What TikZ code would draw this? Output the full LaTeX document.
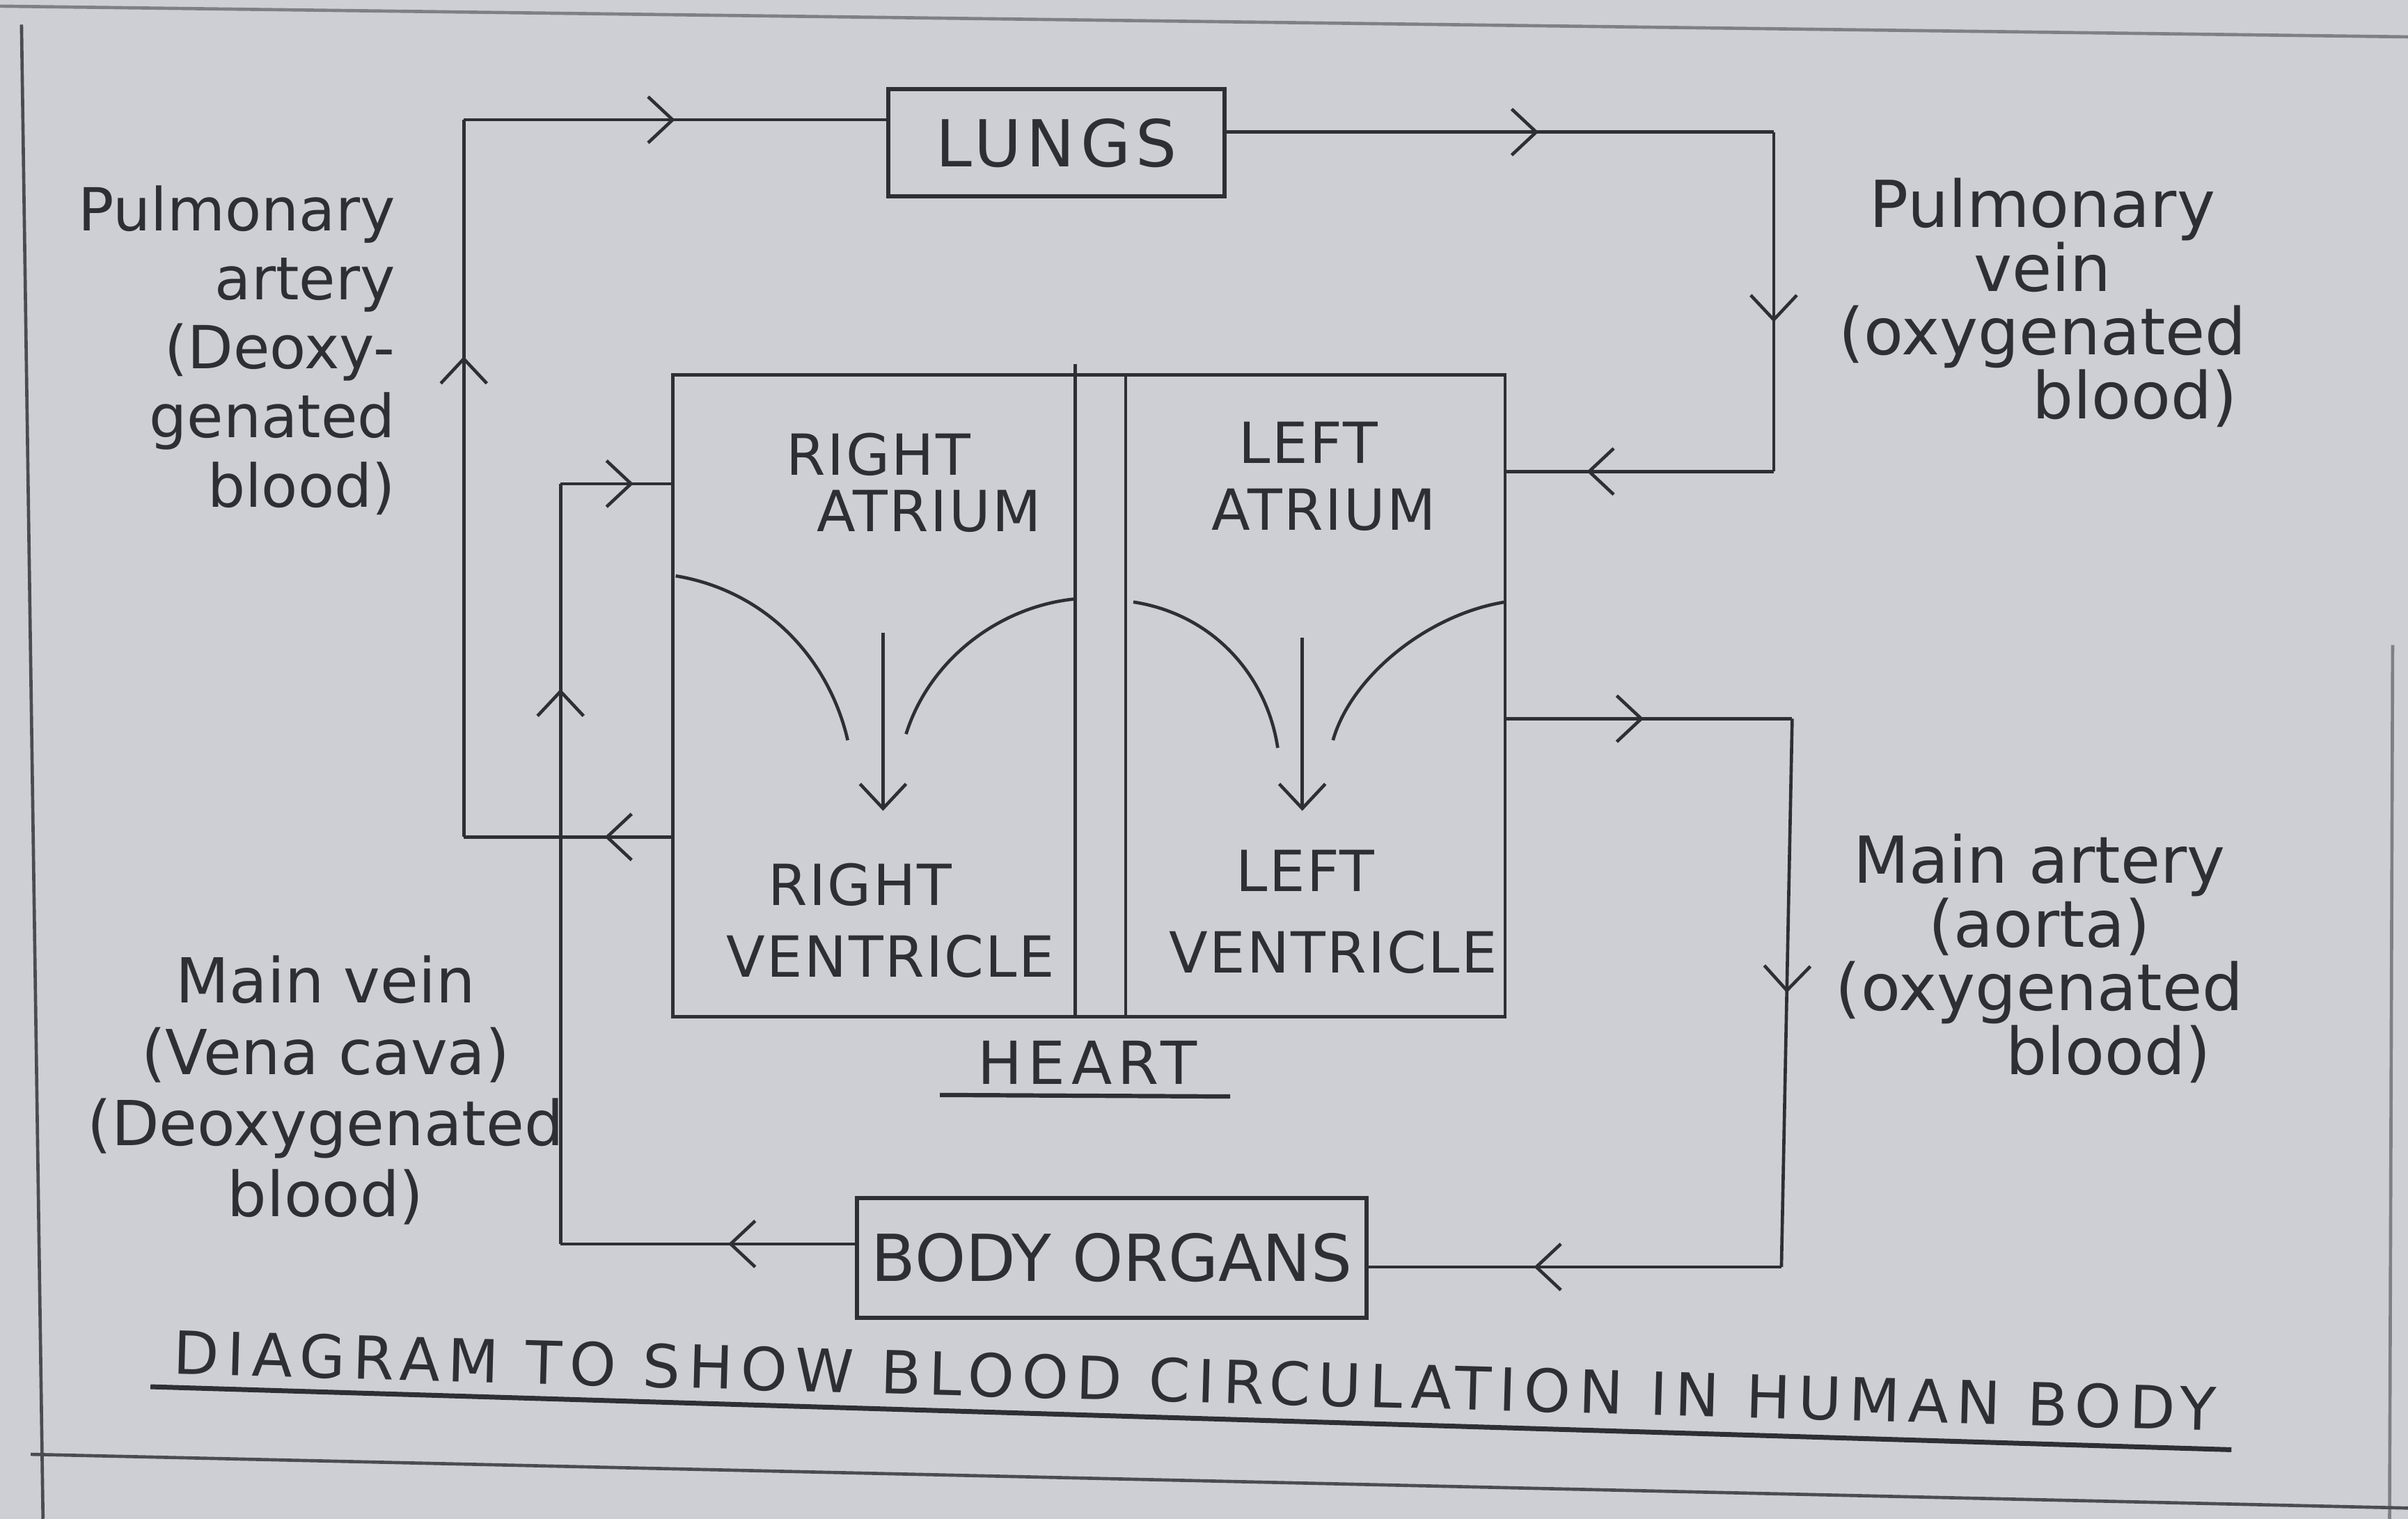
\documentclass[tikz,border=0pt]{standalone}
\usepackage{fontspec}
\setmainfont{DejaVu Sans}
\usetikzlibrary{arrows.meta, positioning, decorations.markings, calc}
\definecolor{paper}{HTML}{CDCFD4}
\definecolor{ink}{HTML}{2E2F34}
\definecolor{pencil}{HTML}{4A4C52}
\tikzset{
  organ/.style={rectangle, draw=ink, line width=0.8pt, align=center, text=ink,
    font=\fontsize{12}{14}\selectfont, inner sep=2pt},
  chamber/.style={font=\fontsize{10.5}{12}\selectfont\addfontfeature{LetterSpace=3}, inner sep=0pt, text=ink},
  note/.style={font=\fontsize{11}{12.8}\selectfont, text=ink, inner sep=0pt},
  notewide/.style={font=\fontsize{12}{11.8}\selectfont, text=ink, inner sep=0pt},
  heading/.style={font=\fontsize{11}{13}\selectfont\addfontfeature{LetterSpace=10}, inner sep=0pt, text=ink},
  vessel/.style={draw=ink, line width=0.6pt},
  flow/.style={postaction={decorate}, decoration={markings,
    mark=at position #1 with {\arrow{Straight Barb[length=1.6mm, width=3mm]}}}},
  flow/.default=0.5,
  flowtip/.style={-{Straight Barb[length=1.6mm, width=3mm]}},
  pageline/.style={draw=pencil, line width=0.6pt},
}

\begin{document}
\begin{tikzpicture}[x=0.1mm, y=-0.1mm]
\fill[paper] (0,0) rectangle (1568,989);
\useasboundingbox (0,0) rectangle (1568,989);

% ruled page
\draw[pageline, draw opacity=0.6] (0,4) -- (1568,24);
\draw[pageline] (14,16) -- (28,989);
\draw[pageline] (20,947) -- (1568,982);
\draw[pageline, draw opacity=0.6] (1558,420) -- (1556,989);

% organs
\node[organ, font=\fontsize{12}{14}\selectfont\addfontfeature{LetterSpace=8}, minimum width=21.9mm, minimum height=7mm] (lungs) at (688,93) {LUNGS};
\node[organ, minimum width=33.2mm, minimum height=7.8mm] (body) at (724,819) {BODY ORGANS};
\node[organ, line width=0.6pt, minimum width=54.2mm, minimum height=41.8mm] (heart) at (709,453) {};

% septum
\draw[vessel] (700,237) -- (700,662);
\draw[vessel] (733,244) -- (733,662);

% valves
\draw[vessel] (440,375) .. controls (500,385) and (540,430) .. (552,482);
\draw[vessel] (590,478) .. controls (605,430) and (650,395) .. (700,390);
\draw[vessel] (738,392) .. controls (790,400) and (825,440) .. (832,487);
\draw[vessel] (868,482) .. controls (880,440) and (930,400) .. (980,392);
\draw[vessel, flowtip] (575,412) -- (575,528);
\draw[vessel, flowtip] (848,415) -- (848,528);

% chambers
\node[chamber] (ra1) at (572,296) {RIGHT};
\node[chamber] (ra2) at (605,333) {ATRIUM};
\node[chamber] (la1) at (852,288) {LEFT};
\node[chamber] (la2) at (862,332) {ATRIUM};
\node[chamber] (rv1) at (560,576) {RIGHT};
\node[chamber] (rv2) at (580,623) {VENTRICLE};
\node[chamber] (lv1) at (850,567) {LEFT};
\node[chamber] (lv2) at (868,620) {VENTRICLE};

\node[heading] (hearttext) at (708,692) {HEART};
\draw[vessel, line width=0.8pt] (612,713) -- (801,714);

% pulmonary artery
\coordinate (pa1) at (302,545);
\coordinate (pa2) at (302,78);
\draw[vessel, flow=0.32] (heart.west |- pa1) -- (pa1);
\draw[vessel, flow=0.67] (pa1) -- (pa2);
\draw[vessel, flow=0.5] (pa2) -- (lungs.west |- pa2);

% pulmonary vein
\coordinate (pv1) at (1155,86);
\coordinate (pv2) at (1155,307);
\draw[vessel, flow=0.57] (lungs.east |- pv1) -- (pv1);
\draw[vessel, flow=0.56] (pv1) -- (pv2);
\draw[vessel, flow=0.7] (pv2) -- (heart.east |- pv2);

% aorta
\coordinate (ao1) at (1167,468);
\coordinate (ao2) at (1160,825);
\draw[vessel, flow=0.48] (heart.east |- ao1) -- (ao1);
\draw[vessel, flow=0.5] (ao1) -- (ao2);
\draw[vessel, flow=0.6] (ao2) -- (body.east |- ao2);

% vena cava
\coordinate (vc1) at (365,810);
\coordinate (vc2) at (365,315);
\draw[vessel, flow=0.43] (body.west |- vc1) -- (vc1);
\draw[vessel, flow=0.73] (vc1) -- (vc2);
\draw[vessel, flow=0.66] (vc2) -- (heart.west |- vc2);

% labels
\node[note, align=right, anchor=east] (palabel) at (258,228) {Pulmonary\\artery\\(Deoxy-\\genated\\blood)};
\node[notewide, align=center] (pvlabel) at (1330,197) {Pulmonary\\vein\\(oxygenated\\\hspace*{12mm}blood)};
\node[notewide, align=center] (aolabel) at (1328,624) {Main artery\\(aorta)\\(oxygenated\\\hspace*{9mm}blood)};
\node[note, font=\fontsize{11.5}{13.2}\selectfont, align=center] (vclabel) at (212,710) {Main vein\\(Vena cava)\\(Deoxygenated\\blood)};

% title
\node[heading, font=\fontsize{11}{13}\selectfont\addfontfeature{LetterSpace=13}, rotate=-1.6] (caption) at (778,899) {DIAGRAM TO SHOW BLOOD CIRCULATION IN HUMAN BODY};
\draw[vessel, line width=0.9pt] (98,903) -- (1453,944);
\end{tikzpicture}
\end{document}
